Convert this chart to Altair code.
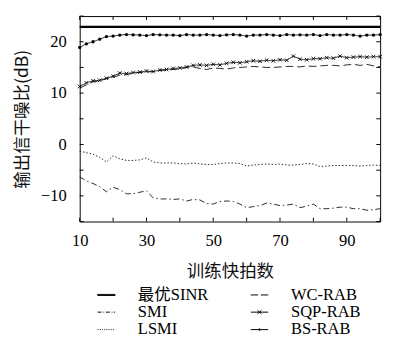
import altair as alt
import pandas as pd

# ---------------- data ----------------
x_vals = list(range(10, 101, 2))

optimal_x = [10, 100]
optimal_y = [22.9, 22.9]

bs_rab = [18.9, 19.6, 20.0, 20.5, 21.0, 21.1, 21.3, 21.4, 21.35, 21.3,
          21.2, 21.4, 21.35, 21.3, 21.3, 21.2, 21.4, 21.3, 21.3, 21.4,
          21.3, 21.2, 21.35, 21.4, 21.3, 21.1, 21.3, 21.3, 21.4, 21.3,
          21.2, 21.4, 21.3, 21.35, 21.3, 21.4, 21.2, 21.4, 21.3, 21.3,
          21.4, 21.3, 21.1, 21.3, 21.3, 21.4]

sqp_rab = [11.3, 12.0, 12.4, 12.5, 12.9, 13.3, 13.9, 13.8, 14.0, 14.1,
           14.3, 14.2, 14.5, 14.6, 14.8, 14.9, 15.1, 15.4, 15.5, 15.4,
           15.6, 15.5, 15.8, 16.0, 15.9, 16.1, 16.3, 16.2, 16.4, 16.3,
           16.5, 16.4, 17.2, 16.6, 16.5, 16.7, 16.7, 16.9, 16.8, 17.2,
           16.9, 17.0, 17.1, 17.0, 17.1, 17.1]

wc_rab = [11.0, 11.6, 12.2, 12.4, 12.8, 13.1, 13.5, 13.6, 13.9, 14.0,
          14.1, 14.2, 14.4, 14.5, 14.6, 14.7, 15.0, 15.1, 14.8, 14.6,
          14.9, 14.8, 14.7, 14.9, 15.0, 15.1, 15.2, 15.1, 15.0, 15.0,
          15.1, 15.2, 15.2, 15.1, 15.3, 15.2, 15.3, 15.4, 15.4, 15.3,
          15.5, 15.6, 15.4, 15.6, 15.3, 15.1]

smi = [-6.3, -7.1, -7.6, -8.2, -9.2, -8.3, -8.8, -9.6, -9.6, -9.3,
       -9.0, -10.4, -10.6, -10.6, -10.7, -10.6, -11.0, -10.7, -10.8, -11.5,
       -11.6, -11.1, -11.0, -11.1, -11.6, -12.3, -12.1, -11.9, -11.4, -11.6,
       -11.9, -11.8, -11.6, -12.3, -12.0, -11.6, -12.5, -12.5, -12.4, -12.2,
       -12.2, -12.5, -12.5, -12.8, -12.7, -12.5]

lsmi = [-1.3, -1.6, -1.9, -2.5, -3.4, -2.2, -2.8, -3.1, -3.1, -3.0,
        -2.6, -3.4, -3.6, -3.6, -3.6, -3.7, -3.8, -3.6, -3.8, -3.9,
        -3.9, -3.7, -3.6, -3.6, -3.7, -4.2, -4.0, -3.9, -3.8, -3.9,
        -3.8, -4.0, -4.0, -3.9, -3.7, -3.8, -4.3, -4.2, -4.1, -4.1,
        -4.1, -4.1, -4.2, -4.1, -4.0, -4.1]

# legend fills column by column: col 1 = 最优SINR, SMI, LSMI ; col 2 = WC, SQP, BS
legend_order = ["最优SINR", "SMI", "LSMI", "WC-RAB", "SQP-RAB", "BS-RAB"]
style_order = ["SMI", "LSMI", "WC-RAB", "SQP-RAB", "BS-RAB"]
x_ticks = list(range(10, 101, 10))
y_ticks = list(range(-15, 26, 5))
x_labels = [10, 30, 50, 70, 90]
y_labels = [-10, 0, 10, 20]

# ---------------- tables ----------------
df_opt = pd.DataFrame({"x": optimal_x, "y": optimal_y})
rows = []
for name, vals in [("BS-RAB", bs_rab), ("SQP-RAB", sqp_rab), ("WC-RAB", wc_rab),
                   ("SMI", smi), ("LSMI", lsmi)]:
    for xv, yv in zip(x_vals, vals):
        rows.append({"x": xv, "y": yv, "series": name})
df = pd.DataFrame(rows)
xt = pd.DataFrame({"x": x_ticks})
yt = pd.DataFrame({"y": y_ticks})

W, H = 310, 212
TICK = 4

SERIF = "Liberation Serif, Noto Sans CJK SC"
CJK = "Noto Sans CJK SC"

dash_range = [[6, 3, 1.5, 3], [1.5, 2], [8, 4], [1, 0], [1, 0]]

legend_paths = [
    "M-1,-0.06H1V0.06H-1Z",
    "M-1,0H-0.55M-0.35,0H-0.25M-0.05,0H0.4M0.6,0H0.7M0.85,0H1",
    "M-1,0H-0.9M-0.75,0H-0.65M-0.5,0H-0.4M-0.25,0H-0.15M0,0H0.1M0.25,0H0.35M0.5,0H0.6M0.75,0H0.85",
    "M-1,0H-0.15M0.15,0H1",
    "M-1,0H1M-0.22,-0.2L0.22,0.2M-0.22,0.2L0.22,-0.2",
    "M-1,0H1M-0.1,0A0.1,0.1 0 1,0 0.1,0A0.1,0.1 0 1,0 -0.1,0Z",
]

x_scale = alt.Scale(domain=[10, 100], nice=False, zero=False)
y_scale = alt.Scale(domain=[-15, 25], nice=False, zero=False)

x_axis = alt.Axis(values=x_labels, ticks=False, domain=False, grid=False,
                  labelFont="Liberation Serif", labelFontSize=17, labelPadding=12,
                  labelFlush=False, labelColor="black",
                  title="训练快拍数", titleFont=CJK, titleFontSize=18,
                  titleFontWeight="normal", titlePadding=15, titleColor="#111")
y_axis = alt.Axis(values=y_labels, ticks=False, domain=False, grid=False,
                  labelFont="Liberation Serif", labelFontSize=17, labelPadding=14,
                  labelColor="black",
                  title="输出信干噪比(dB)", titleFont=CJK, titleFontSize=18,
                  titleFontWeight="normal", titlePadding=9, titleColor="#111")

X = alt.X("x:Q", scale=x_scale, axis=x_axis)
Y = alt.Y("y:Q", scale=y_scale, axis=y_axis)

base = alt.Chart(df)

opt_line = alt.Chart(df_opt).mark_line(color="black", strokeWidth=2.2).encode(x=X, y=Y)

lines = base.mark_line(color="black", strokeWidth=0.85).encode(
    x=X, y=Y,
    strokeDash=alt.StrokeDash("series:N", scale=alt.Scale(domain=style_order, range=dash_range), legend=None),
    detail="series:N",
)

sqp_pts = base.transform_filter(alt.datum.series == "SQP-RAB").mark_point(
    shape="M-1,-1L1,1M-1,1L1,-1", size=14, filled=False, color="black",
    strokeWidth=0.9, opacity=1
).encode(x=X, y=Y)

bs_pts = base.transform_filter(alt.datum.series == "BS-RAB").mark_circle(
    size=12, color="black", opacity=1
).encode(x=X, y=Y)

legend_layer = base.mark_point(
    filled=False, color="black", opacity=0, strokeWidth=1, size=1
).encode(
    x=X, y=Y,
    shape=alt.Shape("series:N", scale=alt.Scale(domain=legend_order, range=legend_paths),
                    legend=alt.Legend(title=None, orient="none", legendX=18, legendY=278,
                                      columns=2, columnPadding=41, rowPadding=0,
                                      symbolSize=324, symbolStrokeWidth=1,
                                      symbolOpacity=1,
                                      symbolStrokeColor="black",
                                      labelFont=SERIF, labelFontSize=17, labelColor="black",
                                      labelOffset=23, padding=0)),
)

# inward ticks on all four sides
tick_style = dict(color="black", strokeWidth=1)
bottom_ticks = alt.Chart(xt).mark_rule(**tick_style).encode(
    x=X, y=alt.value(H), y2=alt.value(H - TICK))
top_ticks = alt.Chart(xt).mark_rule(**tick_style).encode(
    x=X, y=alt.value(0), y2=alt.value(TICK))
left_ticks = alt.Chart(yt).mark_rule(**tick_style).encode(
    y=Y, x=alt.value(0), x2=alt.value(TICK))
right_ticks = alt.Chart(yt).mark_rule(**tick_style).encode(
    y=Y, x=alt.value(W), x2=alt.value(W - TICK))

chart = alt.layer(lines, opt_line, sqp_pts, bs_pts, legend_layer,
                  bottom_ticks, top_ticks, left_ticks, right_ticks).properties(
    width=W, height=H,
    padding={"left": 6, "top": 2, "right": 0, "bottom": 0},
).configure_view(stroke="black", strokeWidth=1)

chart.save("out.html", embed_options={"renderer": "svg", "actions": False})
